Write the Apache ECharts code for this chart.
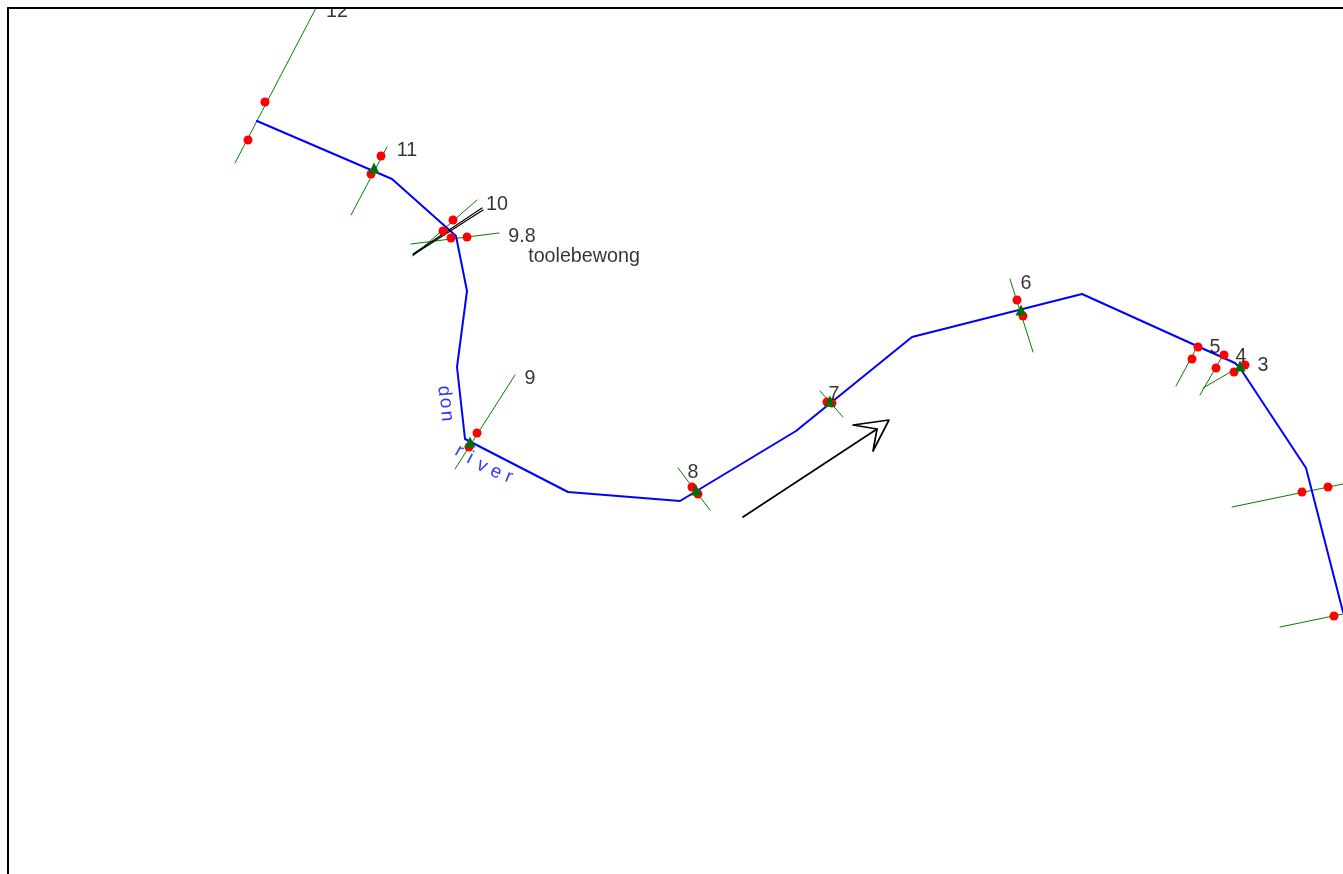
<!DOCTYPE html>
<html><head><meta charset="utf-8">
<style>html,body{margin:0;padding:0;background:#fff}#c{width:1343px;height:874px}</style>
<script src="https://cdn.jsdelivr.net/npm/echarts@6/dist/echarts.min.js"></script>
</head><body><div id="c"></div>
<script>
// Plan-view coordinates
const riverPath = [[257,121],[392,179],[456,236],[467,291],[457,367],[465,439],[568,492],[680,501],[796,431],[912,337],[1082,294],[1197,346],[1235,363],[1240,368],[1306,468],[1343,612]];
const crossSections = [
  [[235,163],[316,8]],   // 12
  [[351,215],[387,147]], // 11
  [[413,256],[477,200]], // 10
  [[411,244],[499,233]], // 9.8
  [[455,469],[515,375]], // 9
  [[678,468],[710,510]], // 8
  [[820,391],[843,417]], // 7
  [[1010,279],[1033,352]], // 6
  [[1176,386],[1197,347]], // 5
  [[1200,395],[1223,355]], // 4
  [[1203,388],[1246,363]], // 3
  [[1232,507],[1343,484]],
  [[1280,627],[1343,614]]
];
const bankPoints = [[265,102],[248,140],[381,156],[371,174],[453,220],[443,231],[451,238],[467,237],[477,433],[469,447],[692,487],[698,494],[827,402],[832,403],[1017,300],[1023,316],[1198,347],[1192,359],[1224,355],[1216,368],[1234,372],[1245,365],[1302,492],[1328,487],[1334,616]];
const gaugePoints = [[374,168],[470,442],[696,490],[830,401],[1021,310],[1240,366]];
const bridgeLines = [
  [[413,254],[482,208]],
  [[413,255],[483,210]]
];
const arrowShaft = [[743,517],[877,429]];
const arrowHead = [[877,429],[853,425],[889,420],[873,451],[877,429]];
const sectionLabels = [[337,9.5,'12'],[407,149,'11'],[497,203,'10'],[522,235,'9.8'],[530,377,'9'],[693,471,'8'],[834,393,'7'],[1026,282,'6'],[1215,346,'5'],[1241,355,'4'],[1263,364,'3'],[584,255,'toolebewong']];
const riverLetters = [[444,391,'d',-85],[446,403,'o',-85],[447,416,'n',-85],[459,451,'r',-30],[470,458,'i',-28],[482,466,'v',-26],[496,472,'e',-24],[509,477,'r',-22]];

const line = (data, color, width, z) => ({
  type:'line', data, symbol:'none', silent:true, z, clip:true, animation:false,
  lineStyle:{color, width, cap:'round', join:'round'}
});
const textStyle = (color, fontSize) => ({
  show:true, position:'inside', color, fontSize, fontFamily:'"Liberation Sans"',
  textBorderWidth:0, textBorderColor:'transparent', textShadowBlur:0
});

const series = [
  ...crossSections.map(s => line(s,'#007f00',1,2)),
  line(riverPath,'#0000ff',2,3),
  ...bridgeLines.map(s => line(s,'#000000',1.2,4)),
  line(arrowShaft,'#000000',1.7,4),
  line(arrowHead,'#000000',1.7,4),
  {type:'scatter',data:bankPoints,symbol:'circle',symbolSize:9,z:5,silent:true,animation:false,
   itemStyle:{color:'#ff0000',opacity:1}},
  {type:'scatter',data:gaugePoints,symbol:'triangle',symbolSize:[11,11],z:6,silent:true,animation:false,
   itemStyle:{color:'#007000',opacity:1}},
  {type:'scatter',data:sectionLabels,symbol:'circle',symbolSize:1,z:7,silent:true,animation:false,
   itemStyle:{color:'rgba(0,0,0,0)'},
   label:{...textStyle('#000000',19.7),offset:[0,2],formatter:p=>p.data[2]}},
  {type:'scatter',symbol:'circle',symbolSize:1,z:7,silent:true,animation:false,
   itemStyle:{color:'rgba(0,0,0,0)'},
   data:riverLetters.map(d=>({value:[d[0],d[1]],label:{...textStyle('#0000ff',19),formatter:d[2],rotate:d[3]}}))}
];

const chart = echarts.init(document.getElementById('c'),null,{renderer:'canvas'});
chart.setOption({
  animation:false,
  backgroundColor:'#fff',
  grid:{left:8,top:8,width:1335,height:866},
  xAxis:{type:'value',min:8,max:1343,position:'top',z:60,
    axisLine:{show:true,onZero:false,lineStyle:{color:'#000',width:2}},
    axisTick:{show:false},axisLabel:{show:false},splitLine:{show:false}},
  yAxis:{type:'value',min:8,max:874,inverse:true,position:'left',z:60,
    axisLine:{show:true,onZero:false,lineStyle:{color:'#000',width:2}},
    axisTick:{show:false},axisLabel:{show:false},splitLine:{show:false}},
  graphic:[{type:'rect',z:50,silent:true,shape:{x:0,y:0,width:1343,height:8},style:{fill:'#fff'}}],
  series
});
</script></body></html>
